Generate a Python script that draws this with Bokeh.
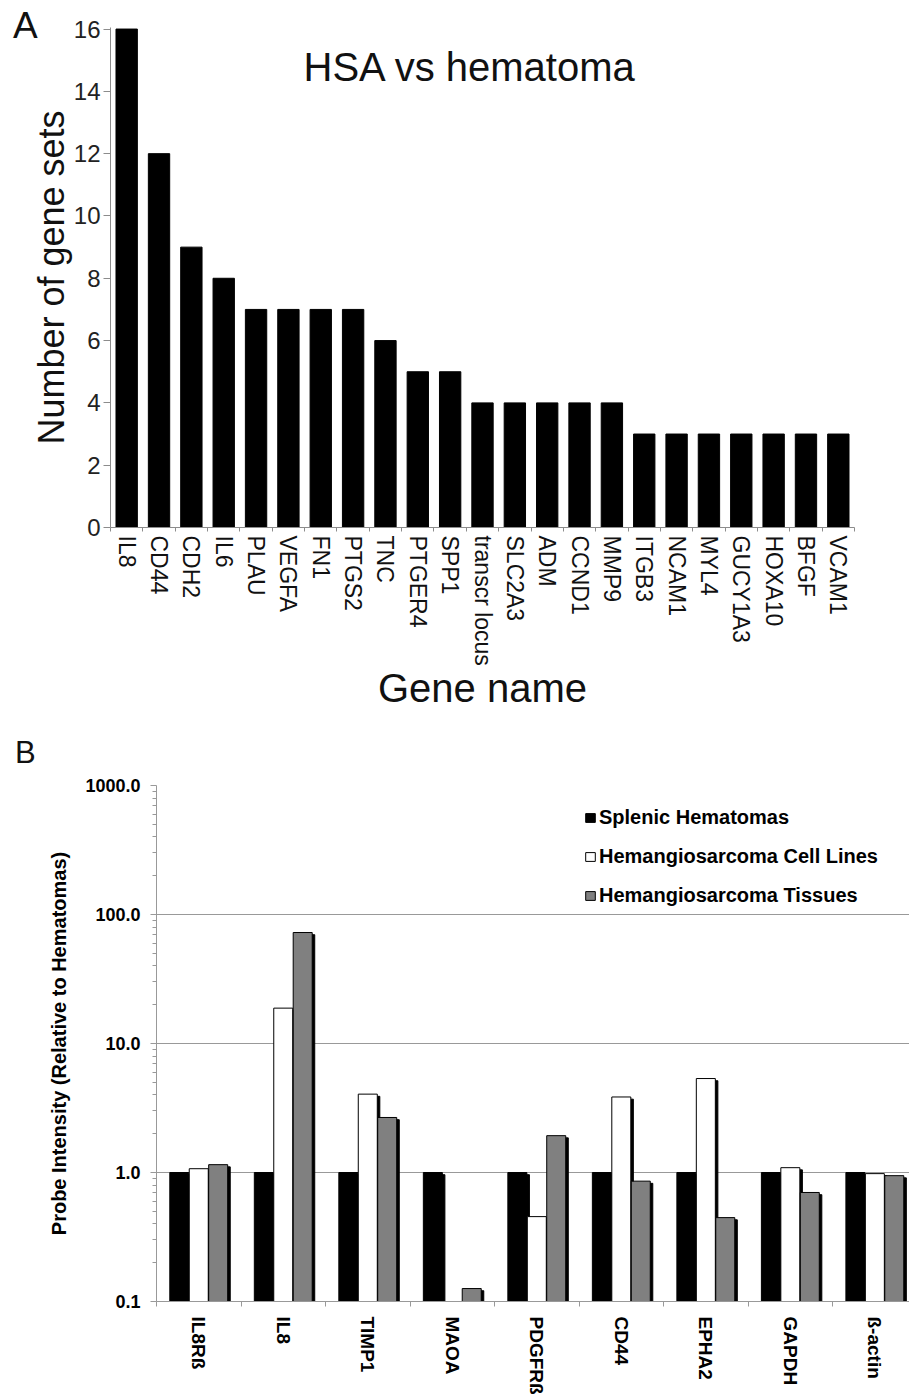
import numpy as np
from bokeh.plotting import figure
from bokeh.models import (Range1d, LinearAxis, LogAxis, FixedTicker, Label, Legend,
                          LegendItem, ColumnDataSource, Grid, Div)
from bokeh.layouts import column, row
from bokeh.embed import file_html
from bokeh.resources import INLINE

# ---------------- data: panel A ----------------
genes = ["IL8", "CD44", "CDH2", "IL6", "PLAU", "VEGFA", "FN1", "PTGS2", "TNC",
         "PTGER4", "SPP1", "transcr locus", "SLC2A3", "ADM", "CCND1", "MMP9",
         "ITGB3", "NCAM1", "MYL4", "GUCY1A3", "HOXA10", "BFGF", "VCAM1"]
gene_set_counts = [16, 12, 9, 8, 7, 7, 7, 7, 6, 5, 5, 4, 4, 4, 4, 4, 3, 3, 3, 3, 3, 3, 3]
y_ticks_a = [0, 2, 4, 6, 8, 10, 12, 14, 16]

# ---------------- data: panel B ----------------
probes = ["IL8Rß", "IL8", "TIMP1", "MAOA", "PDGFRß", "CD44", "EPHA2", "GAPDH", "ß-actin"]
splenic_hematomas = [1.0, 1.0, 1.0, 1.0, 1.0, 1.0, 1.0, 1.0, 1.0]
hsa_cell_lines = [1.07, 18.8, 4.05, float("nan"), 0.455, 3.85, 5.35, 1.09, 0.98]
hsa_tissues = [1.15, 72.5, 2.67, 0.126, 1.93, 0.857, 0.447, 0.70, 0.945]
series_names = ["Splenic Hematomas", "Hemangiosarcoma Cell Lines", "Hemangiosarcoma Tissues"]
y_ticks_b = [0.1, 1.0, 10.0, 100.0, 1000.0]
y_tick_labels_b = ["0.1", "1.0", "10.0", "100.0", "1000.0"]

FONT = "Liberation Sans"
AXIS_GRAY = "#8c8c8c"


def drop_grids(p):
    for r in list(p.center):
        if isinstance(r, Grid):
            r.visible = False


def panel_letter(letter, width, height, size, pad_top, pad_left, overlap=0):
    html = ('<div style="padding:%dpx 0 0 %dpx; font-family:\'%s\'; font-size:%dpx; '
            'line-height:normal; color:#111111; margin:0;">%s</div>'
            % (pad_top, pad_left, FONT, size, letter))
    return Div(text=html, width=width, height=height, margin=(0, -overlap, 0, 0))


# ================= Panel A =================
pA = figure(width=884, height=715,
            x_range=Range1d(0, len(genes)),
            y_range=Range1d(0, 16.05),
            output_backend="svg", toolbar_location=None,
            x_axis_location=None, y_axis_location=None,
            min_border_left=85, min_border_right=55,
            min_border_top=27, min_border_bottom=188)
pA.outline_line_color = None
pA.border_fill_alpha = 0
drop_grids(pA)

gene_pos = np.arange(len(genes)) + 0.5
pA.vbar(x=gene_pos, top=gene_set_counts, width=0.66, bottom=0,
        fill_color="black", line_color="black")

yA = LinearAxis(ticker=FixedTicker(ticks=y_ticks_a), axis_label="Number of gene sets")
yA.axis_line_color = AXIS_GRAY
yA.major_tick_line_color = AXIS_GRAY
yA.major_tick_out = 7
yA.major_tick_in = 0
yA.minor_tick_line_color = None
yA.major_label_text_font = FONT
yA.major_label_text_font_size = "24px"
yA.major_label_text_color = "#222222"
yA.major_label_standoff = 3
yA.axis_label_text_font = FONT
yA.axis_label_text_font_size = "36px"
yA.axis_label_text_font_style = "normal"
yA.axis_label_text_color = "#111111"
yA.axis_label_standoff = -1
pA.add_layout(yA, "left")

xA = LinearAxis(ticker=FixedTicker(ticks=list(gene_pos),
                                   minor_ticks=list(range(len(genes) + 1))),
                axis_label="Gene name")
xA.major_label_overrides = {float(p): g for p, g in zip(gene_pos, genes)}
xA.axis_line_color = AXIS_GRAY
xA.major_tick_line_color = None
xA.major_tick_out = 4
xA.major_tick_in = 0
xA.minor_tick_line_color = AXIS_GRAY
xA.minor_tick_out = 4
xA.minor_tick_in = 0
xA.major_label_orientation = "vertical"
xA.major_label_text_font = FONT
xA.major_label_text_font_size = "23px"
xA.major_label_text_color = "#111111"
xA.major_label_standoff = 4
xA.axis_label_text_font = FONT
xA.axis_label_text_font_size = "40px"
xA.axis_label_text_font_style = "normal"
xA.axis_label_text_color = "#111111"
xA.axis_label_standoff = -3
pA.add_layout(xA, "below")

pA.add_layout(Label(x=193, y=461, x_units="screen", y_units="screen",
                    text="HSA vs hematoma", text_font=FONT, text_font_size="40px",
                    text_color="#111111", text_baseline="alphabetic"))

# ================= Panel B =================
x_end = 8.91
pB = figure(width=864, height=682,
            x_range=Range1d(0, x_end), y_range=Range1d(0.1, 1000),
            y_axis_type="log",
            output_backend="svg", toolbar_location=None,
            x_axis_location=None, y_axis_location=None,
            min_border_left=110, min_border_right=0,
            min_border_top=70, min_border_bottom=94)
pB.outline_line_color = None
drop_grids(pB)

positions = np.arange(len(probes)) + 0.5
offsets = [-0.23, 0.0, 0.23]
bar_w = 0.225
fills = ["black", "white", "#808080"]
series = [splenic_hematomas, hsa_cell_lines, hsa_tissues]

yB = LogAxis(ticker=FixedTicker(ticks=y_ticks_b,
                                minor_ticks=[m * d for d in y_ticks_b[:-1] for m in range(2, 10)]),
             axis_label="Probe Intensity (Relative to Hematomas)")
yB.major_label_overrides = dict(zip(y_ticks_b, y_tick_labels_b))
yB.axis_line_color = "#999999"
yB.major_tick_line_color = "#999999"
yB.minor_tick_line_color = "#999999"
yB.major_tick_out = 6
yB.major_tick_in = 0
yB.minor_tick_out = 4
yB.minor_tick_in = 0
yB.major_label_text_font = FONT
yB.major_label_text_font_size = "18px"
yB.major_label_text_font_style = "bold"
yB.major_label_text_color = "black"
yB.major_label_standoff = 10
yB.axis_label_text_font = FONT
yB.axis_label_text_font_size = "20px"
yB.axis_label_text_font_style = "bold"
yB.axis_label_text_color = "black"
yB.axis_label_standoff = 12
pB.add_layout(yB, "left")
pB.add_layout(Grid(dimension=1, ticker=yB.ticker, grid_line_color="#999999",
                   minor_grid_line_color=None))

renderers = []
for vals, off, fc in zip(series, offsets, fills):
    v = np.array(vals, dtype=float)
    src = ColumnDataSource(dict(x=positions + off, top=v,
                                sx=positions + off + 0.03, stop=v / 1.04))
    pB.vbar(x="sx", top="stop", bottom=0.1, width=bar_w, source=src,
            fill_color="black", line_color="black")
    r = pB.vbar(x="x", top="top", bottom=0.1, width=bar_w, source=src,
                fill_color=fc, line_color="black", line_width=1)
    renderers.append(r)

xB = LinearAxis(ticker=FixedTicker(ticks=list(positions),
                                   minor_ticks=list(range(len(probes) + 1))))
xB.major_label_overrides = {float(p): name for p, name in zip(positions, probes)}
xB.axis_line_color = "#999999"
xB.major_tick_line_color = None
xB.major_tick_out = 5
xB.major_tick_in = 0
xB.minor_tick_line_color = "#999999"
xB.minor_tick_out = 5
xB.minor_tick_in = 0
xB.major_label_orientation = "vertical"
xB.major_label_text_font = FONT
xB.major_label_text_font_size = "19px"
xB.major_label_text_font_style = "bold"
xB.major_label_text_color = "black"
xB.major_label_standoff = 10
pB.add_layout(xB, "below")

legend = Legend(items=[LegendItem(label=n, renderers=[r]) for n, r in zip(series_names, renderers)],
                location=(428, 394), glyph_width=12, glyph_height=11, label_standoff=3,
                spacing=16, padding=0, margin=0, border_line_color=None,
                background_fill_alpha=0, label_text_font=FONT,
                label_text_font_size="20px", label_text_font_style="bold",
                label_text_color="black")
pB.add_layout(legend)

divA = panel_letter("A", 40, 715, 37, 5, 13, overlap=15)
divB = panel_letter("B", 45, 682, 31, 20, 15)

layout = column(row(divA, pA, spacing=0), row(divB, pB, spacing=0), spacing=0)
open("out.html", "w").write(file_html(layout, INLINE))
